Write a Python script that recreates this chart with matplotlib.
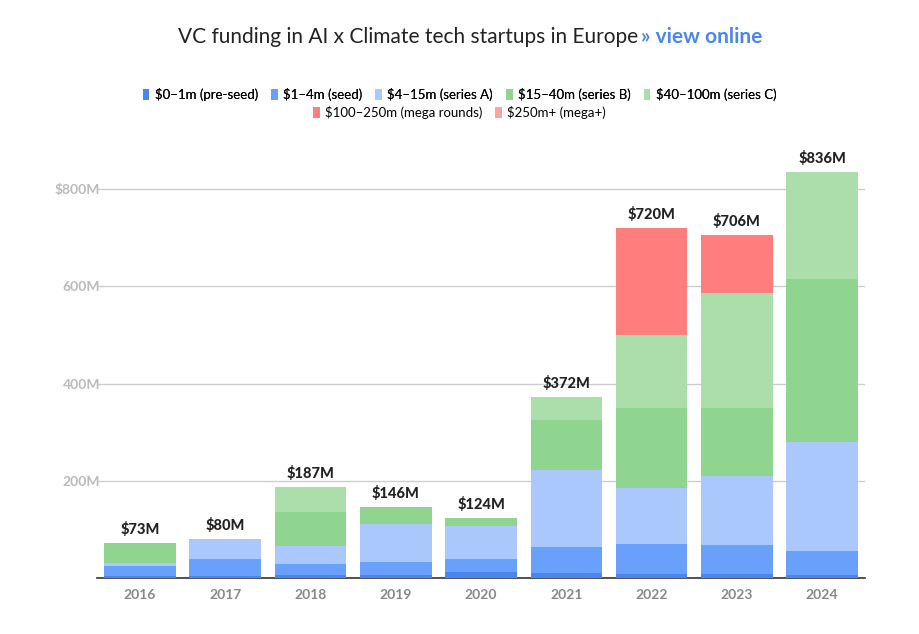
import matplotlib
matplotlib.use("Agg")
import matplotlib.pyplot as plt
import numpy as np

years = ["2016","2017","2018","2019","2020","2021","2022","2023","2024"]
preseed = [5, 5, 6, 6, 12, 10, 8, 8, 6]
seed    = [20, 35, 23, 27, 28, 54, 62, 60, 50]
seriesA = [6, 40, 37, 78, 68, 158, 115, 142, 224]
seriesB = [42, 0, 70, 35, 16, 103, 165, 140, 335]
seriesC = [0, 0, 51, 0, 0, 47, 150, 236, 221]
mega    = [0, 0, 0, 0, 0, 0, 220, 120, 0]
megaplus = [0, 0, 0, 0, 0, 0, 0, 0, 0]
totals = ["$73M","$80M","$187M","$146M","$124M","$372M","$720M","$706M","$836M"]
labels = ["$0–1m (pre-seed)","$1–4m (seed)","$4–15m (series A)","$15–40m (series B)",
          "$40–100m (series C)","$100–250m (mega rounds)","$250m+ (mega+)"]
colors = ["#4a86ee","#69a0fb","#abc8fd","#8fd48f","#abdeab","#ff7d7d","#f7a4a4"]

plt.rcParams["font.family"] = "Lato"
fig = plt.figure(figsize=(9.19, 6.34), dpi=100)
ax = fig.add_axes([0.106, 0.088, 0.835, 0.675])
series = [preseed, seed, seriesA, seriesB, seriesC, mega, megaplus]
x = np.arange(len(years))
bottom = np.zeros(len(years))
handles = []
for s, c, l in zip(series, colors, labels):
    h = ax.bar(x, s, bottom=bottom, width=0.84, color=c, label=l, zorder=3)
    handles.append(h)
    bottom += np.array(s)
for i, t in enumerate(totals):
    ax.text(x[i], bottom[i] + 12, t, ha="center", va="bottom", fontsize=10.5,
            fontweight="heavy", color="#222222")
ax.set_xlim(-0.5, len(years) - 0.5)
ax.set_ylim(0, 880)
ax.set_xticks(x)
ax.set_xticklabels(years, fontsize=10, fontweight="bold", color="#888888")
ax.set_yticks([200, 400, 600, 800])
ax.set_yticklabels(["200M","400M","600M","$800M"], fontsize=10, fontweight="bold", color="#bbbbbb")
ax.yaxis.set_tick_params(length=0, pad=-2)
ax.tick_params(axis="x", length=0, pad=8)
ax.grid(axis="y", color="#cccccc", linewidth=1, zorder=0)
for sp in ["top","right","left"]:
    ax.spines[sp].set_visible(False)
ax.spines["bottom"].set_color("#333333")
ax.spines["bottom"].set_linewidth(1.2)

fig.text(0.694, 0.942, "VC funding in AI x Climate tech startups in Europe", ha="right", va="center",
         fontsize=15, color="#222222")
fig.text(0.698, 0.942, "» view online", ha="left", va="center", fontsize=15, color="#4a86ee",
         fontweight="bold")
leg1 = fig.legend(handles[:5], labels[:5], loc="center", bbox_to_anchor=(0.5, 0.851), ncol=5,
                  frameon=False, fontsize=9.5, handlelength=0.5, handleheight=0.9,
                  handletextpad=0.4, columnspacing=1.0)
fig.legend(handles[5:], labels[5:], loc="center", bbox_to_anchor=(0.5, 0.823), ncol=2,
           frameon=False, fontsize=9.5, handlelength=0.5, handleheight=0.9,
           handletextpad=0.4, columnspacing=1.0)
fig.add_artist(leg1)
fig.savefig("out.png", dpi=100)
